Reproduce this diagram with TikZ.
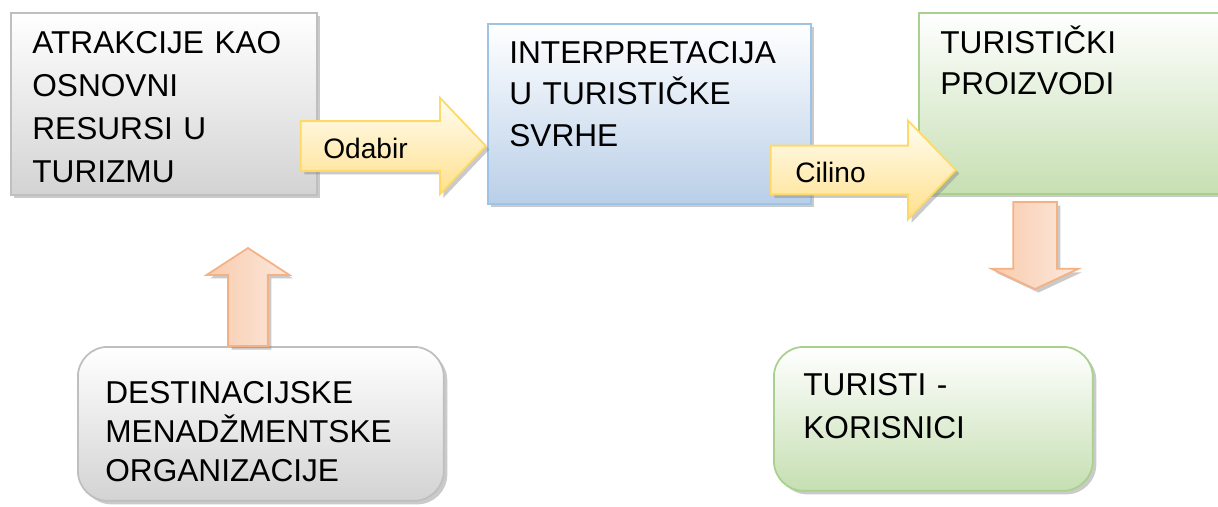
\documentclass[tikz,border=0pt]{standalone}
\usepackage{fontspec}
\setmainfont{Liberation Sans}
\usepackage{tikz}
\usetikzlibrary{shapes.arrows, shadows}
\definecolor{greyline}{HTML}{BFBFBF}
\definecolor{greyfill}{HTML}{D3D3D3}
\definecolor{blueline}{HTML}{9DC3E6}
\definecolor{bluefill}{HTML}{B9CFE8}
\definecolor{greenline}{HTML}{A9D18E}
\definecolor{greenfill}{HTML}{C6DFB2}
\definecolor{yline}{HTML}{FFD966}
\definecolor{yfill}{HTML}{FFE08C}
\definecolor{ytop}{HTML}{FFFDF2}
\definecolor{oline}{HTML}{F4B183}
\definecolor{ofill}{HTML}{F8CBAD}
\definecolor{otop}{HTML}{FCE8DC}
\tikzstyle{box} = [draw, line width=1pt, inner sep=0pt, anchor=north west, drop shadow={shadow xshift=0.07cm, shadow yshift=-0.07cm, opacity=0.42}]
\tikzstyle{greybox} = [box, draw=greyline, top color=white, bottom color=greyfill]
\tikzstyle{bluebox} = [box, draw=blueline, top color=white, bottom color=bluefill]
\tikzstyle{greenbox} = [box, draw=greenline, top color=white, bottom color=greenfill]
\tikzstyle{yarrow} = [single arrow, draw=yline, line width=1pt, top color=ytop, bottom color=yfill, inner sep=0pt, text depth=0pt, anchor=tip, drop shadow={shadow xshift=0.07cm, shadow yshift=-0.07cm, opacity=0.42}]
\tikzstyle{oarrow} = [single arrow, draw=oline, line width=1pt, left color=ofill, right color=otop, inner sep=0pt, text depth=0pt, text height=0pt, anchor=tip, drop shadow={shadow xshift=0.07cm, shadow yshift=-0.07cm, opacity=0.42}]
\tikzstyle{boxtext} = [anchor=base west, inner sep=0pt, align=left, text width=6cm, font=\fontsize{18}{24.5}\selectfont]
\tikzstyle{arrowtext} = [anchor=base west, inner sep=0pt, font=\fontsize{16}{19}\selectfont]

\begin{document}
\begin{tikzpicture}[x=0.02cm, y=-0.02cm]
        \useasboundingbox (0,0) rectangle (1218,507);
        % Boxes
        \node (atrakcije) [greybox, minimum width=6.12cm, minimum height=3.64cm] at (10,12) {};
        \node (interpretacija) [bluebox, minimum width=6.46cm, minimum height=3.6cm] at (487,23) {};
        \node (proizvodi) [greenbox, minimum width=6.6cm, minimum height=3.62cm] at (918,12) {};
        \node (dmo) [greybox, rounded corners=0.6cm, minimum width=7.32cm, minimum height=3.08cm] at (77,346) {};
        \node (turisti) [greenbox, rounded corners=0.6cm, minimum width=6.38cm, minimum height=2.88cm] at (773,346) {};
        % Box texts
        \node (atrakcije-txt) [boxtext] at (32,53) {ATRAKCIJE KAO\\OSNOVNI\\RESURSI U\\TURIZMU};
        \node (interpretacija-txt) [boxtext, font=\fontsize{18}{23.9}\selectfont] at (509,63) {INTERPRETACIJA\\U TURISTIČKE\\SVRHE};
        \node (proizvodi-txt) [boxtext, font=\fontsize{18}{23.9}\selectfont] at (940,53) {TURISTIČKI\\PROIZVODI};
        \node (dmo-txt) [boxtext, font=\fontsize{18}{22.4}\selectfont] at (105,403) {DESTINACIJSKE\\MENADŽMENTSKE\\ORGANIZACIJE};
        \node (turisti-txt) [boxtext] at (803,395) {TURISTI -\\KORISNICI};
        % Block arrows
        \node (odabir) [yarrow, minimum height=3.7cm, minimum width=1.9cm, text height=0.96cm, single arrow head extend=0.47cm, single arrow tip angle=93] at (487,146) {};
        \node (cilino) [yarrow, minimum height=3.7cm, minimum width=1.94cm, text height=0.94cm, single arrow head extend=0.5cm, single arrow tip angle=92] at (957,170) {};
        \node (gore) [oarrow, shape border rotate=90, minimum height=1.96cm, minimum width=1.62cm, text width=0.76cm, single arrow head extend=0.43cm, single arrow tip angle=114] at (248,247) {};
        \node (dolje) [oarrow, shape border rotate=270, minimum height=1.74cm, minimum width=1.7cm, text width=0.84cm, single arrow head extend=0.43cm, single arrow tip angle=130] at (1035,290) {};
        \node (odabir-txt) [arrowtext] at (323,158) {Odabir};
        \node (cilino-txt) [arrowtext] at (795,182) {Cilino};
\end{tikzpicture}
\end{document}
